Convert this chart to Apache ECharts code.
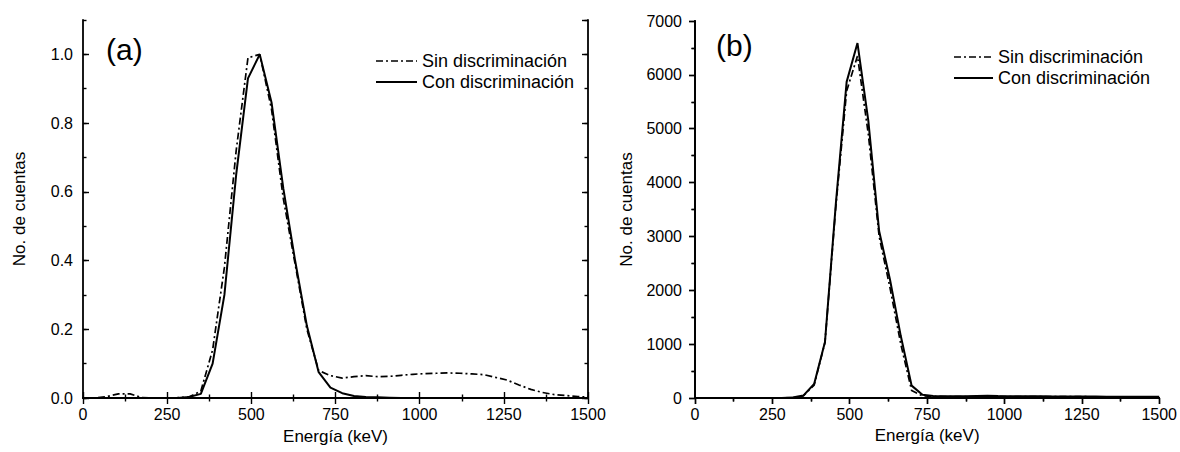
<!DOCTYPE html>
<html>
<head>
<meta charset="utf-8">
<script src="https://cdn.jsdelivr.net/npm/echarts@6/dist/echarts.min.js"></script>
<style>
html,body{margin:0;padding:0;background:#fff;}
#chart{width:1180px;height:452px;}
</style>
</head>
<body>
<div id="chart"></div>
<script>
// ---- data ----
const energies = [0,35,70,105,140,175,210,245,280,315,350,385,420,455,490,525,560,595,630,665,700,735,770,805,840,875,910,945,980,1015,1050,1085,1120,1155,1190,1225,1260,1295,1330,1365,1400,1435,1470,1500];

// panel (a): normalised counts
const aSin = [0,0,0.004,0.012,0.012,0.001,0,0,0.001,0.003,0.02,0.14,0.38,0.72,0.99,1.0,0.84,0.58,0.39,0.2,0.08,0.065,0.058,0.062,0.065,0.062,0.063,0.066,0.069,0.071,0.072,0.073,0.072,0.07,0.068,0.06,0.052,0.038,0.025,0.016,0.01,0.007,0.004,0.003];
const aCon = [0,0,0,0,0,0,0,0,0,0.003,0.012,0.10,0.30,0.65,0.93,1.0,0.86,0.61,0.40,0.21,0.075,0.03,0.014,0.006,0.003,0.002,0.001,0,0,0,0,0,0,0,0,0,0,0,0,0,0,0,0,0];

// panel (b): counts
const bSin = [0,0,0,0,0,0,0,0,2,10,40,240,1030,3550,5700,6350,4900,3000,2050,1000,140,40,30,28,27,27,28,30,29,28,27,27,26,26,25,25,24,23,22,22,21,20,20,20];
const bCon = [0,0,0,0,0,0,0,0,2,10,45,260,1040,3600,5870,6590,5150,3100,2200,1150,230,60,35,32,31,32,36,40,36,33,32,32,31,30,29,28,27,26,25,24,23,22,22,21];

const xTicks = {min:0, max:1500, interval:250};
const aY = {min:0, max:1.1, major:0.2, minor:0.1};
const bY = {min:0, max:7000, major:1000};

const seriesNames = ['Sin discriminación','Con discriminación'];
const panelLabels = ['(a)','(b)'];
const xName = 'Energía (keV)';
const yName = 'No. de cuentas';

// ---- chart ----
const FONT = 'Liberation Sans, Arial, sans-serif';
const black = '#000';
const dashDot = [7,3,2,3];
const pair = (xs, ys) => xs.map((x,i)=>[x, ys[i]]);
const plain = v => String(v);

const lineAx = {show:true, lineStyle:{color:black, width:1.8}};
const tickLS = {color:black, width:1.4};
const labelStyle = {color:black, fontSize:16, fontFamily:FONT};

function xAxes(grid, bottomTickInside, nameGap){
  return [
    {type:'value', gridIndex:grid, position:'bottom', min:xTicks.min, max:xTicks.max, interval:xTicks.interval,
     axisLine:lineAx, splitLine:{show:false},
     axisTick:{show:true, inside:bottomTickInside, length:6, lineStyle:tickLS},
     minorTick:{show:true, splitNumber:2, length:3.5, lineStyle:tickLS},
     axisLabel:Object.assign({margin:8, formatter:plain}, labelStyle),
     name:xName, nameLocation:'middle', nameGap:nameGap,
     nameTextStyle:{color:black, fontSize:17, fontFamily:FONT}},
    {type:'value', gridIndex:grid, position:'top', min:xTicks.min, max:xTicks.max, interval:xTicks.interval,
     axisLine:lineAx, splitLine:{show:false},
     axisTick:{show:true, inside:true, length:6, lineStyle:tickLS},
     minorTick:{show:true, splitNumber:2, length:3.5, lineStyle:tickLS},
     axisLabel:{show:false}}
  ];
}

function legendGraphic(x0, y0, len, gap, rowH){
  const els = [];
  seriesNames.forEach((nm, i) => {
    const y = y0 + i*rowH;
    els.push({type:'line', shape:{x1:x0, y1:y, x2:x0+len, y2:y},
      style:{stroke:black, lineWidth:i===0?1.7:2, lineDash:i===0?dashDot:null}});
    els.push({type:'text', x:x0+len+gap, y:y,
      style:{text:nm, fontSize:18, fontFamily:FONT, fill:black, verticalAlign:'middle', textVerticalAlign:'middle'}});
  });
  return els;
}

const option = {
  backgroundColor:'#fff',
  animation:false,
  textStyle:{fontFamily:FONT},
  grid:[
    {left:83, width:505, top:20, height:378},
    {left:695, width:465, top:21, height:377}
  ],
  xAxis:[].concat(xAxes(0, true, 30), xAxes(1, false, 28)),
  yAxis:[
    {type:'value', gridIndex:0, position:'left', min:aY.min, max:aY.max, interval:aY.major,
     axisLine:lineAx, splitLine:{show:false},
     axisTick:{show:true, inside:true, length:6, lineStyle:tickLS},
     axisLabel:Object.assign({margin:10, showMaxLabel:false, formatter:v=>v.toFixed(1)}, labelStyle),
     name:yName, nameLocation:'middle', nameGap:55,
     nameTextStyle:{color:black, fontSize:17, fontFamily:FONT}},
    {type:'value', gridIndex:0, position:'left', min:aY.min, max:aY.max, interval:aY.minor,
     axisLine:{show:false}, splitLine:{show:false}, axisLabel:{show:false},
     axisTick:{show:true, inside:true, length:3.5, lineStyle:tickLS}},
    {type:'value', gridIndex:0, position:'right', min:aY.min, max:aY.max, interval:aY.major,
     axisLine:lineAx, splitLine:{show:false}, axisLabel:{show:false},
     axisTick:{show:true, inside:true, length:6, lineStyle:tickLS}},
    {type:'value', gridIndex:0, position:'right', min:aY.min, max:aY.max, interval:aY.minor,
     axisLine:{show:false}, splitLine:{show:false}, axisLabel:{show:false},
     axisTick:{show:true, inside:true, length:3.5, lineStyle:tickLS}},
    {type:'value', gridIndex:1, position:'left', min:bY.min, max:bY.max, interval:bY.major,
     axisLine:lineAx, splitLine:{show:false},
     axisTick:{show:true, inside:false, length:6, lineStyle:tickLS},
     minorTick:{show:true, splitNumber:2, length:3.5, lineStyle:tickLS},
     axisLabel:Object.assign({margin:13, formatter:plain}, labelStyle),
     name:yName, nameLocation:'middle', nameGap:60,
     nameTextStyle:{color:black, fontSize:17, fontFamily:FONT}},
    {type:'value', gridIndex:1, position:'right', min:bY.min, max:bY.max, interval:bY.major,
     axisLine:lineAx, splitLine:{show:false}, axisLabel:{show:false},
     axisTick:{show:true, inside:true, length:6, lineStyle:tickLS},
     minorTick:{show:true, splitNumber:2, length:3.5, lineStyle:tickLS}}
  ],
  graphic:[
    {type:'text', left:106, top:34, style:{text:panelLabels[0], fontSize:30, fontFamily:FONT, fill:black}},
    {type:'text', left:716, top:30, style:{text:panelLabels[1], fontSize:30, fontFamily:FONT, fill:black}}
  ].concat(legendGraphic(376, 61, 41, 5, 21), legendGraphic(954, 57, 39, 5, 21)),
  series:[
    {name:seriesNames[0], type:'line', xAxisIndex:0, yAxisIndex:0, data:pair(energies,aSin), symbol:'none',
     lineStyle:{color:black, width:1.7, type:dashDot}, itemStyle:{color:black}, z:3},
    {name:seriesNames[1], type:'line', xAxisIndex:0, yAxisIndex:0, data:pair(energies,aCon), symbol:'none',
     lineStyle:{color:black, width:2, type:'solid'}, itemStyle:{color:black}, z:4},
    {name:seriesNames[0], type:'line', xAxisIndex:2, yAxisIndex:4, data:pair(energies,bSin), symbol:'none',
     lineStyle:{color:black, width:1.7, type:dashDot}, itemStyle:{color:black}, z:3},
    {name:seriesNames[1], type:'line', xAxisIndex:2, yAxisIndex:4, data:pair(energies,bCon), symbol:'none',
     lineStyle:{color:black, width:2, type:'solid'}, itemStyle:{color:black}, z:4}
  ]
};

const chart = echarts.init(document.getElementById('chart'), null, {renderer:'svg'});
chart.setOption(option);
</script>
</body>
</html>
